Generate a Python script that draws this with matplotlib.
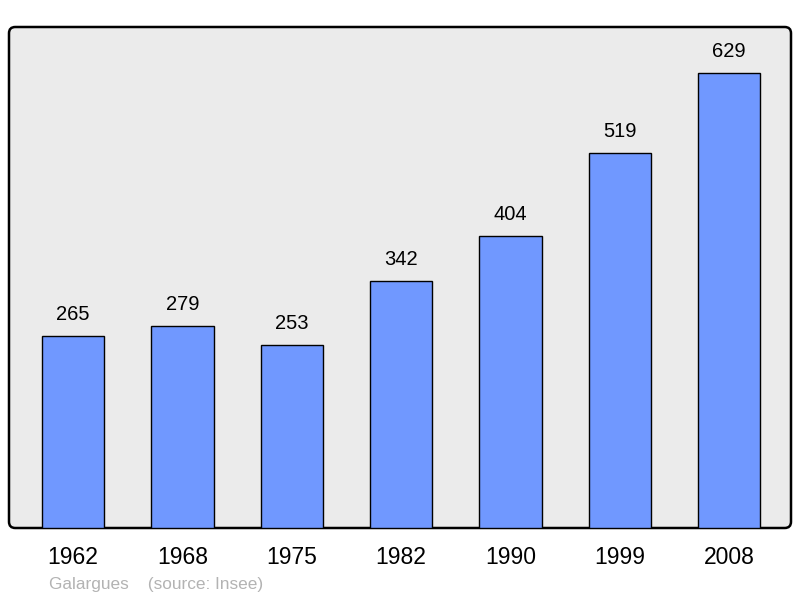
import matplotlib
matplotlib.use("Agg")
from matplotlib import pyplot as plt
from matplotlib.patches import FancyBboxPatch

years = ["1962", "1968", "1975", "1982", "1990", "1999", "2008"]
population = [265, 279, 253, 342, 404, 519, 629]

plt.rcParams['font.family'] = ['Liberation Sans', 'DejaVu Sans']

fig = plt.figure(figsize=(8, 5.98), dpi=100)
ax = fig.add_axes([9 / 800, 70 / 598, 782 / 800, 501 / 598])
ax.set_facecolor("none")

# background panel with slightly rounded corners
panel = FancyBboxPatch((0, 0), 1, 1, boxstyle="round,pad=0,rounding_size=0.008",
                       transform=ax.transAxes, facecolor="#ebebeb",
                       edgecolor="black", linewidth=1.8, zorder=0, clip_on=False,
                       mutation_aspect=782 / 501)
ax.add_patch(panel)

x = range(len(years))
ax.bar(x, population, width=0.57, color="#7098ff", edgecolor="black",
       linewidth=1.0, zorder=2)
for i, v in enumerate(population):
    ax.text(i, v + 22, str(v), ha="center", va="baseline", fontsize=14.5, zorder=3)

ax.set_xlim(-0.585, 6.565)
ax.set_ylim(0, 692.6)
for s in ax.spines.values():
    s.set_visible(False)
ax.set_yticks([])
ax.set_xticks(list(x))
ax.set_xticklabels(years, fontsize=16.5)
ax.tick_params(axis="x", length=0, pad=12.7)

fig.text(49 / 800, 1 - 584 / 598, "Galargues    (source: Insee)", color="#b3b3b3",
         fontsize=12.4, ha="left", va="center")

fig.savefig("out.png", dpi=100)
